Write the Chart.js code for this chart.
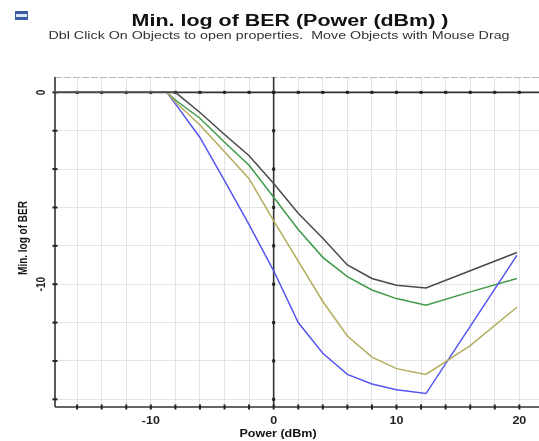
<!DOCTYPE html>
<html>
<head>
<meta charset="utf-8">
<script src="https://cdn.jsdelivr.net/npm/chart.js@4"></script>
<style>
  body { margin: 0; background: #fff; }
  #wrap { width: 539px; height: 441px; position: relative; }
</style>
</head>
<body>
<div id="wrap"><canvas id="berChart"></canvas></div>
<script>
// データ
const power = [-18, -8.7, -8, -6, -4, -2, 0, 2, 4, 6, 8, 10, 12.4, 16, 19.8];
const berBlack  = [0, 0, 0,    -1.05, -2.2, -3.3, -4.75, -6.3, -7.6, -9.0,  -9.7,  -10.05, -10.2, -9.3,  -8.35];
const berYellow = [0, 0, -0.5, -1.7,  -3.1, -4.5, -6.7,  -8.8, -10.9, -12.7, -13.8, -14.4, -14.7, -13.2, -11.2];
const berBlue   = [0, 0, -0.6, -2.35, -4.6, -6.9, -9.3,  -12.0, -13.6, -14.7, -15.2, -15.5, -15.7, -12.2, -8.5];
const berGreen  = [0, 0, -0.4, -1.35, -2.6, -3.8, -5.47, -7.15, -8.6, -9.6,  -10.3, -10.75, -11.1, -10.4, -9.7];

const xGrid = [-16, -14, -12, -10, -8, -6, -4, -2, 0, 2, 4, 6, 8, 10, 12, 14, 16, 18, 20];
const yGrid = [0, -2, -4, -6, -8, -10, -12, -14, -16];
const xLabels = [-10, 0, 10, 20];
const yLabels = [0, -10];

const TITLE = "Min. log of BER (Power (dBm) )";
const SUBTITLE = "Dbl Click On Objects to open properties.  Move Objects with Mouse Drag";
const X_TITLE = "Power (dBm)";
const Y_TITLE = "Min. log of BER";

const FONT = "'Liberation Sans', Arial, sans-serif";
const STRETCH = 1.25; // 元画像は横に引き伸ばされている

function series(vals) {
  return power.map((p, i) => ({ x: p, y: vals[i] }));
}

function drawText(ctx, text, x, y, font, sx, rot) {
  ctx.save();
  ctx.translate(x, y);
  if (rot) ctx.rotate(rot);
  ctx.scale(rot ? 1 : sx, rot ? sx : 1);
  ctx.font = font;
  ctx.textAlign = "center";
  ctx.textBaseline = "middle";
  ctx.fillText(text, 0, 0);
  ctx.restore();
}

// 軸・文字の描画
const decorPlugin = {
  id: "decor",
  beforeDatasetsDraw(chart) {
    const { ctx, chartArea: a, scales: { x, y } } = chart;
    ctx.save();
    // 上枠（破線）
    ctx.strokeStyle = "#b8b8b8";
    ctx.lineWidth = 1;
    ctx.setLineDash([7, 2]);
    ctx.beginPath();
    ctx.moveTo(a.left, a.top + 0.5);
    ctx.lineTo(a.right, a.top + 0.5);
    ctx.stroke();
    ctx.setLineDash([]);

    // 左枠・下枠・ゼロ軸
    ctx.strokeStyle = "#333";
    ctx.lineWidth = 1.6;
    const x0 = x.getPixelForValue(0);
    const y0 = y.getPixelForValue(0);
    ctx.beginPath();
    ctx.moveTo(a.left, a.top); ctx.lineTo(a.left, a.bottom);
    ctx.moveTo(a.left, a.bottom); ctx.lineTo(a.right, a.bottom);
    ctx.moveTo(x0, a.top); ctx.lineTo(x0, a.bottom);
    ctx.moveTo(a.left, y0); ctx.lineTo(a.right, y0);
    ctx.stroke();

    // 目盛り
    ctx.fillStyle = "#222";
    xGrid.forEach(v => {
      const px = x.getPixelForValue(v);
      ctx.fillRect(px - 1.5, y0 - 1.5, 3, 3);
      ctx.fillRect(px - 1, a.bottom - 2.5, 2, 5);
    });
    yGrid.forEach(v => {
      const py = y.getPixelForValue(v);
      ctx.fillRect(x0 - 1.5, py - 1.5, 3, 3);
      ctx.fillRect(a.left - 2.5, py - 1, 5, 2);
    });
    ctx.restore();
  },
  afterDraw(chart) {
    const { ctx, chartArea: a, scales: { x, y } } = chart;
    ctx.save();
    // アイコン
    ctx.fillStyle = "#3b5ba5";
    ctx.fillRect(15, 11, 13, 9);
    ctx.fillStyle = "#dfe6f7";
    ctx.fillRect(16, 14, 11, 3);

    ctx.fillStyle = "#111";
    drawText(ctx, TITLE, 290, 22, "bold 16px " + FONT, 1.34);
    ctx.fillStyle = "#333";
    drawText(ctx, SUBTITLE, 279, 36, "10.5px " + FONT, 1.36);

    ctx.fillStyle = "#222";
    xLabels.forEach(v => {
      drawText(ctx, String(v), x.getPixelForValue(v), 421, "bold 10px " + FONT, STRETCH);
    });
    yLabels.forEach(v => {
      drawText(ctx, String(v), 42, y.getPixelForValue(v), "bold 10px " + FONT, STRETCH, -Math.PI / 2);
    });
    ctx.fillStyle = "#111";
    drawText(ctx, X_TITLE, 278, 434, "bold 10px " + FONT, STRETCH);
    drawText(ctx, Y_TITLE, 24, 238, "bold 10px " + FONT, STRETCH, -Math.PI / 2);
    ctx.restore();
  }
};

const lineStyle = (color) => ({
  borderColor: color,
  backgroundColor: color,
  borderWidth: 1.5,
  pointRadius: 0,
  tension: 0,
  fill: false
});

new Chart(document.getElementById("berChart"), {
  type: "line",
  data: {
    datasets: [
      { label: "black",  data: series(berBlack),  ...lineStyle("#4a4a4a") },
      { label: "yellow", data: series(berYellow), ...lineStyle("#b3ac5c") },
      { label: "blue",   data: series(berBlue),   ...lineStyle("#5555f0") },
      { label: "green",  data: series(berGreen),  ...lineStyle("#3e9a48") }
    ]
  },
  options: {
    responsive: true,
    maintainAspectRatio: false,
    animation: false,
    layout: { padding: { left: 55, right: 0, top: 77, bottom: 34 } },
    plugins: { legend: { display: false }, tooltip: { enabled: false } },
    scales: {
      x: {
        type: "linear",
        min: -17.8,
        max: 21.6,
        afterBuildTicks: s => { s.ticks = xGrid.map(v => ({ value: v })); },
        grid: { color: "#e3e3e3", lineWidth: 1, drawTicks: false },
        border: { display: false },
        ticks: { display: false }
      },
      y: {
        type: "linear",
        min: -16.4,
        max: 0.8,
        afterBuildTicks: s => { s.ticks = yGrid.map(v => ({ value: v })); },
        grid: { color: "#e3e3e3", lineWidth: 1, drawTicks: false },
        border: { display: false },
        ticks: { display: false }
      }
    }
  },
  plugins: [decorPlugin]
});
</script>
</body>
</html>
